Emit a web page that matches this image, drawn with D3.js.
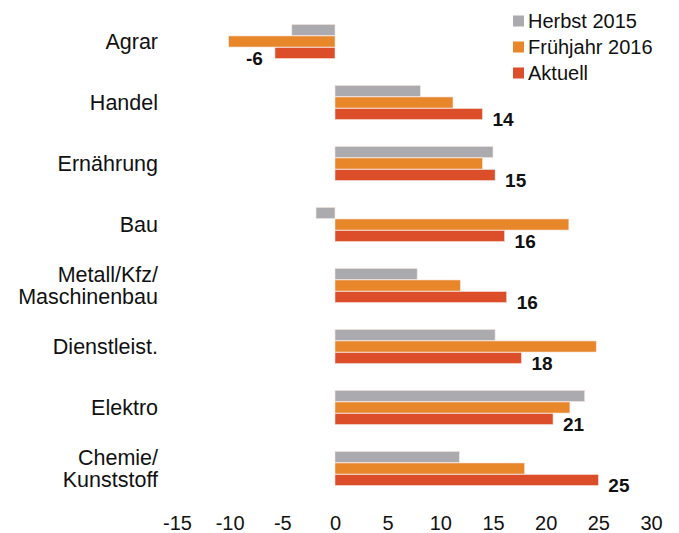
<!DOCTYPE html>
<html>
<head>
<meta charset="utf-8">
<script src="https://d3js.org/d3.v7.min.js"></script>
<style>
  body { margin: 0; background: #fff; }
  svg { display: block; font-family: "Liberation Sans", Arial, sans-serif; }
</style>
</head>
<body>
<svg width="679" height="533"></svg>
<script>
// data
var categories = ["Agrar", "Handel", "Ernährung", "Bau", "Metall/Kfz/\nMaschinenbau", "Dienstleist.", "Elektro", "Chemie/\nKunststoff"];
var seriesNames = ["Herbst 2015", "Frühjahr 2016", "Aktuell"];
var herbst2015 = [-4.1, 8.1, 15.0, -1.8, 7.8, 15.2, 23.7, 11.8];
var fruehjahr2016 = [-10.1, 11.2, 14.0, 22.2, 11.9, 24.8, 22.3, 18.0];
var aktuell = [-5.7, 14.0, 15.2, 16.1, 16.3, 17.7, 20.7, 25.0];
var aktuellLabels = ["-6", "14", "15", "16", "16", "18", "21", "25"];
var xTicks = [-15, -10, -5, 0, 5, 10, 15, 20, 25, 30];

var colors = ["#ababaf", "#e8862a", "#dc4e2a"];
var allSeries = [herbst2015, fruehjahr2016, aktuell];

var svg = d3.select("svg");

var x = d3.scaleLinear().domain([-15, 30]).range([177, 651]);

var y = d3.scaleBand().domain(categories)
  .range([11, 499])
  .paddingInner(0.426)
  .paddingOuter(0.213);

var ySub = d3.scaleBand().domain(d3.range(3))
  .range([0, y.bandwidth()])
  .padding(0.04);

// bars
var groups = svg.append("g").selectAll("g")
  .data(categories).enter().append("g")
  .attr("transform", function(d) { return "translate(0," + y(d) + ")"; });

groups.selectAll("rect")
  .data(function(d, i) { return allSeries.map(function(s, k) { return {k: k, v: s[i]}; }); })
  .enter().append("rect")
  .attr("x", function(d) { return Math.min(x(0), x(d.v)); })
  .attr("y", function(d) { return ySub(d.k); })
  .attr("width", function(d) { return Math.abs(x(d.v) - x(0)); })
  .attr("height", ySub.bandwidth())
  .attr("fill", function(d) { return colors[d.k]; })
  .attr("stroke", "#f4e4de")
  .attr("stroke-width", 0.6);

// value labels for Aktuell
svg.append("g").selectAll("text")
  .data(aktuell).enter().append("text")
  .attr("x", function(d) { return d < 0 ? x(d) - 12 : x(d) + 10; })
  .attr("y", function(d, i) { return y(categories[i]) + ySub(2) + ySub.bandwidth() / 2 + 12; })
  .attr("text-anchor", function(d) { return d < 0 ? "end" : "start"; })
  .style("font-size", "19px")
  .style("font-weight", "bold")
  .attr("fill", "#111")
  .text(function(d, i) { return aktuellLabels[i]; });

// category labels
var catLabels = svg.append("g").selectAll("text")
  .data(categories).enter().append("text")
  .attr("text-anchor", "end")
  .style("font-size", "21.5px")
  .attr("fill", "#111")
  .attr("transform", function(d) { return "translate(158," + (y(d) + y.bandwidth() / 2) + ")"; });

catLabels.each(function(d) {
  var lines = d.split("\n");
  var t = d3.select(this);
  lines.forEach(function(line, j) {
    t.append("tspan")
      .attr("x", 0)
      .attr("y", (j - (lines.length - 1) / 2) * 22 + 7.5)
      .text(line);
  });
});

// x axis
var xaxis = svg.append("g")
  .attr("transform", "translate(0,516)")
  .call(d3.axisBottom(x).tickValues(xTicks).tickSize(0).tickPadding(0)
    .tickFormat(function(d) { return String(d); }));
xaxis.select(".domain").remove();
xaxis.selectAll("text")
  .attr("dy", "0.71em")
  .style("font-size", "20px")
  .style("font-family", "Liberation Sans, Arial, sans-serif")
  .attr("fill", "#111");

// legend
var legend = svg.append("g").selectAll("g")
  .data(seriesNames).enter().append("g")
  .attr("transform", function(d, i) { return "translate(513," + (21 + i * 26) + ")"; });

legend.append("rect")
  .attr("x", 0)
  .attr("y", -5.5)
  .attr("width", 11)
  .attr("height", 11)
  .attr("fill", function(d, i) { return colors[i]; });

legend.append("text")
  .attr("x", 15)
  .attr("y", 7)
  .style("font-size", "20px")
  .attr("fill", "#111")
  .text(function(d) { return d; });
</script>
</body>
</html>
